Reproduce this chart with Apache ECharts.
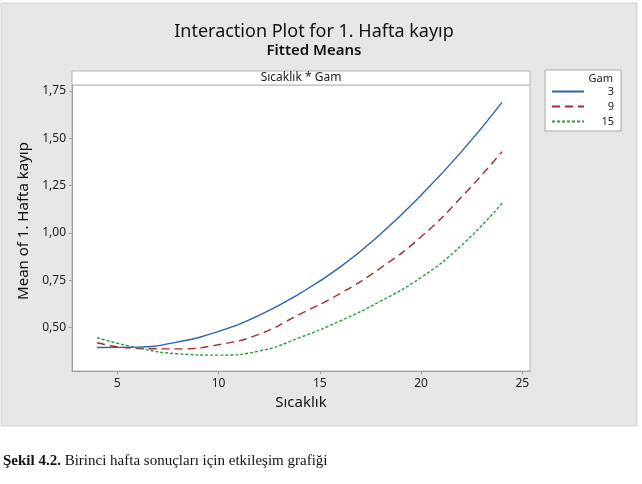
<!DOCTYPE html>
<html>
<head>
<meta charset="utf-8">
<script src="https://cdn.jsdelivr.net/npm/echarts@6/dist/echarts.min.js"></script>
<style>
  html, body { margin: 0; padding: 0; background: #ffffff; }
  #chart { width: 642px; height: 484px; }
</style>
</head>
<body>
<div id="chart"></div>
<script>
// Sıcaklık values where the fitted means were read
const sicaklik = [4, 6, 8, 10, 12, 14, 16, 18, 20, 22, 24];
// fitted means per Gam level
const gam3 = [0.395, 0.397, 0.425, 0.48, 0.565, 0.68, 0.82, 0.995, 1.2, 1.43, 1.69];
const gam9 = [0.42, 0.39, 0.388, 0.41, 0.465, 0.57, 0.68, 0.815, 0.98, 1.19, 1.43];
const gam15 = [0.447, 0.393, 0.362, 0.355, 0.376, 0.447, 0.535, 0.64, 0.765, 0.935, 1.157];
const gamLevels = ["3", "9", "15"];
const xTicks = [5, 10, 15, 20, 25];
const yTicks = [0.5, 0.75, 1.0, 1.25, 1.5, 1.75];

const font = "Noto Sans";
const pairs = (ys) => sicaklik.map((x, i) => [x, ys[i]]);

const chart = echarts.init(document.getElementById("chart"));

const lineSeries = (name, ys, color, dash) => ({
  name: name,
  type: "line",
  data: pairs(ys),
  smooth: true,
  showSymbol: false,
  symbol: "none",
  lineStyle: { color: color, width: 1.4, type: dash },
  itemStyle: { color: color },
});

chart.setOption({
  animation: false,
  backgroundColor: "#ffffff",
  graphic: [
    // grey outer panel
    {
      type: "rect", z: -10, silent: true,
      shape: { x: 1, y: 3, width: 636, height: 423 },
      style: { fill: "#e6e6e6", stroke: "#d2d2d2", lineWidth: 1 },
    },
    // title block
    {
      type: "text", silent: true,
      style: {
        x: 314, y: 32, text: "Interaction Plot for 1. Hafta kayıp", align: "center", verticalAlign: "middle",
        font: "18px 'Noto Sans'", fill: "#111",
      },
    },
    {
      type: "text", silent: true,
      style: {
        x: 314, y: 51, text: "Fitted Means", align: "center", verticalAlign: "middle",
        font: "600 15px 'Noto Sans'", fill: "#111",
      },
    },
    // panel header strip
    {
      type: "rect", z: 1, silent: true,
      shape: { x: 72, y: 71, width: 458, height: 14 },
      style: { fill: "#ffffff", stroke: "#b4b4b4", lineWidth: 1 },
    },
    {
      type: "text", z: 2, silent: true,
      style: {
        x: 301, y: 78, text: "Sıcaklık * Gam", align: "center", verticalAlign: "middle",
        font: "12px 'Noto Sans'", fill: "#1a1a1a",
      },
    },
    // legend box
    {
      type: "rect", z: 1, silent: true,
      shape: { x: 545, y: 70, width: 76, height: 61 },
      style: { fill: "#ffffff", stroke: "#a8a8a8", lineWidth: 1 },
    },
    {
      type: "text", z: 2, silent: true,
      style: {
        x: 613, y: 79, text: "Gam", align: "right", verticalAlign: "middle",
        font: "11px 'Noto Sans'", fill: "#1a1a1a",
      },
    },
    // y axis title, centred on the whole panel box
    {
      type: "text", silent: true, x: 24, y: 221, rotation: Math.PI / 2,
      style: {
        text: "Mean of 1. Hafta kayıp", align: "center", verticalAlign: "middle",
        font: "15px 'Noto Sans'", fill: "#111",
      },
    },
    // caption under the figure
    {
      type: "text", silent: true,
      style: {
        x: 3, y: 461, text: "{b|Şekil 4.2.} Birinci hafta sonuçları için etkileşim grafiği",
        verticalAlign: "middle",
        rich: {
          b: { fontFamily: "Liberation Serif", fontWeight: "bold", fontSize: 15, fill: "#111" },
        },
        font: "15px 'Liberation Serif'", fill: "#111",
      },
    },
  ],
  legend: {
    orient: "vertical",
    left: 546,
    top: 81,
    itemWidth: 32,
    itemHeight: 10,
    itemGap: 4,
    data: gamLevels,
    itemStyle: { opacity: 0 },
    formatter: (n) => "{v|" + n + "}",
    textStyle: {
      fontFamily: font,
      fontSize: 11,
      color: "#1a1a1a",
      rich: { v: { width: 25, align: "right", fontFamily: font, fontSize: 11 } },
    },
  },
  grid: {
    left: 72,
    right: 112,
    top: 85,
    bottom: 113,
    show: true,
    backgroundColor: "#ffffff",
    borderColor: "#b4b4b4",
    borderWidth: 1,
  },
  xAxis: {
    type: "value",
    min: 2.763,
    max: 25.38,
    name: "Sıcaklık",
    nameLocation: "middle",
    nameGap: 24,
    nameTextStyle: { fontFamily: font, fontSize: 15, color: "#111" },
    axisLine: { show: true, lineStyle: { color: "#a0a0a0" } },
    axisTick: { show: true, customValues: xTicks, length: 3, lineStyle: { color: "#a0a0a0" } },
    axisLabel: { customValues: xTicks, margin: 7, fontFamily: font, fontSize: 12, color: "#222" },
    splitLine: { show: false },
  },
  yAxis: {
    type: "value",
    min: 0.271,
    max: 1.782,
    axisLine: { show: true, lineStyle: { color: "#a0a0a0" } },
    axisTick: { show: true, customValues: yTicks, length: 3, lineStyle: { color: "#a0a0a0" } },
    axisLabel: {
      customValues: yTicks, margin: 6, fontFamily: font, fontSize: 12, color: "#222",
      formatter: (v) => v.toFixed(2).replace(".", ","),
    },
    splitLine: { show: false },
  },
  series: [
    lineSeries(gamLevels[0], gam3, "#2a63ae", "solid"),
    lineSeries(gamLevels[1], gam9, "#a32a30", [8, 5]),
    lineSeries(gamLevels[2], gam15, "#2b9a3b", [3, 2]),
  ],
});
</script>
</body>
</html>
